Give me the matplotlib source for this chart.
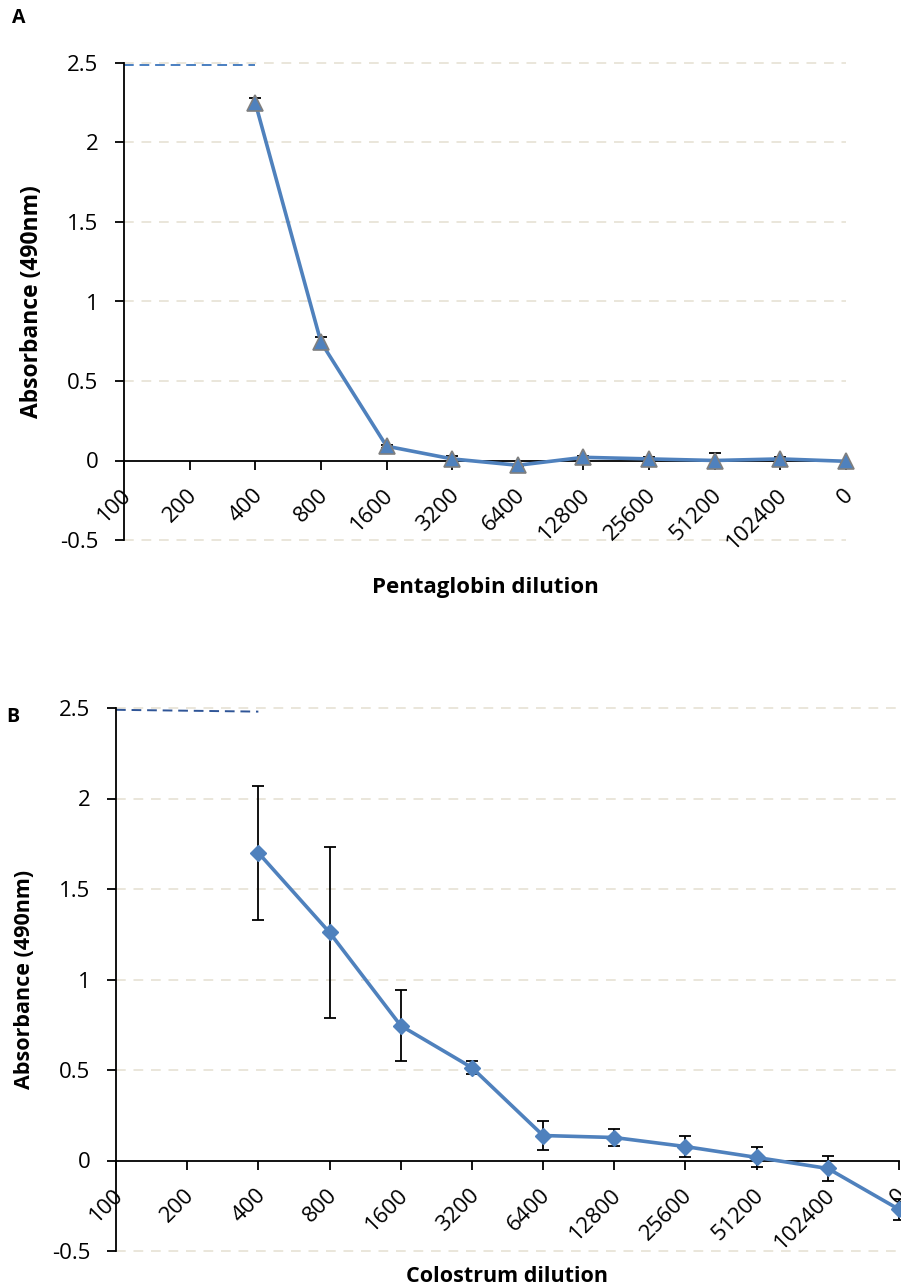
import numpy as np
import matplotlib
matplotlib.use("Agg")
import matplotlib.pyplot as plt
import matplotlib.transforms as mtransforms

plt.rcParams['font.family'] = ['Open Sans', 'DejaVu Sans']

dilutions = ['100', '200', '400', '800', '1600', '3200', '6400', '12800',
             '25600', '51200', '102400', '0']

# panel A - Pentaglobin
penta_mean = [np.nan, np.nan, 2.25, 0.745, 0.09, 0.01, -0.03, 0.02,
              0.01, 0.0, 0.01, -0.005]
penta_err = [np.nan, np.nan, 0.03, 0.03, 0.01, 0.02, 0.01, 0.01,
             0.01, 0.05, 0.01, 0.005]

# panel B - Colostrum
colo_mean = [np.nan, np.nan, 1.70, 1.26, 0.745, 0.513, 0.138, 0.127,
             0.077, 0.017, -0.044, -0.27]
colo_err = [np.nan, np.nan, 0.37, 0.47, 0.195, 0.035, 0.078, 0.045,
            0.06, 0.055, 0.07, 0.06]

# upper detection limit line drawn over first dilutions
limit_x = [0, 2]
limit_a = [2.49, 2.49]
limit_b = [2.49, 2.48]

yticks = [-0.5, 0, 0.5, 1, 1.5, 2, 2.5]
ytick_labels = ['-0.5', '0', '0.5', '1', '1.5', '2', '2.5']

line_col = '#4F81BD'
grid_col = '#EAE6DA'

fig = plt.figure(figsize=(9.01, 12.88), dpi=100)
# offset of rotated category labels from the tick (inches)
lab_shift = mtransforms.ScaledTranslation(0.04, -0.32, fig.dpi_scale_trans)


def setup(ax, xlabel, xlim_right, ylab_size, xlab_size):
    x = np.arange(len(dilutions))
    ax.set_xlim(0, 11)
    ax.set_ylim(-0.5, 2.5)
    for y in yticks:
        if y != 0:
            ax.plot([0, xlim_right], [y, y], color=grid_col, lw=1.4,
                    ls=(0, (5, 4)), zorder=0, clip_on=False)
    for s in ['top', 'right']:
        ax.spines[s].set_visible(False)
    ax.spines['bottom'].set_position(('data', 0))
    ax.spines['bottom'].set_linewidth(1.3)
    ax.spines['left'].set_linewidth(1.3)
    ax.set_yticks(yticks)
    ax.set_yticklabels(ytick_labels, fontsize=16)
    ax.set_xticks(x)
    ax.set_xticklabels([])
    for xi, lab in zip(x, dilutions):
        ax.text(xi, 0, lab, fontsize=16, rotation=45, ha='right',
                va='center', rotation_mode='anchor', clip_on=False,
                transform=ax.transData + lab_shift)
    ax.tick_params(axis='y', length=6.5, width=1.3, pad=12)
    ax.tick_params(axis='x', length=6.5, width=1.3)
    ax.set_ylabel('Absorbance (490nm)', fontsize=ylab_size, fontweight='bold')
    ax.set_xlabel(xlabel, fontsize=xlab_size, fontweight='bold')
    return x


# panel A
axA = fig.add_axes([124 / 901, 1 - 540 / 1288, 722 / 901, 477 / 1288])
x = setup(axA, 'Pentaglobin dilution', 11, 16.5, 16)
axA.xaxis.set_label_coords(0.5, -0.078)
axA.yaxis.set_label_coords(-0.111, 0.5)
axA.plot(limit_x, limit_a, color='#4A7FC1', lw=1.4, ls=(0, (5, 3)))
axA.errorbar(x, penta_mean, yerr=penta_err, fmt='none', ecolor='black',
             elinewidth=1.3, capsize=4, capthick=1.3, zorder=2)
axA.plot(x, penta_mean, color=line_col, lw=2.6, marker='^', ms=11,
         markerfacecolor=line_col, markeredgecolor='#7F7F7F',
         markeredgewidth=1.2, zorder=3, clip_on=False)
fig.text(12 / 901, 1 - 18 / 1288, 'A', fontsize=14, fontweight='bold',
         ha='left', va='center')

# panel B
axB = fig.add_axes([116 / 901, 1 - 1251 / 1288, 783 / 901, 543 / 1288])
x = setup(axB, 'Colostrum dilution', 11.5, 15.5, 15.5)
axB.xaxis.set_label_coords(0.5, -0.028)
axB.yaxis.set_label_coords(-0.103, 0.5)
axB.plot(limit_x, limit_b, color='#2F5597', lw=1.4, ls=(0, (5, 3)))
axB.errorbar(x, colo_mean, yerr=colo_err, fmt='none', ecolor='black',
             elinewidth=1.3, capsize=4, capthick=1.3, zorder=2,
             clip_on=False)
axB.plot(x, colo_mean, color=line_col, lw=2.6, marker='D', ms=8,
         markerfacecolor=line_col, markeredgecolor=line_col, zorder=3,
         clip_on=False)
fig.text(6 / 901, 1 - 717 / 1288, 'B', fontsize=14, fontweight='bold',
         ha='left', va='center')

fig.savefig('out.png', dpi=100)
